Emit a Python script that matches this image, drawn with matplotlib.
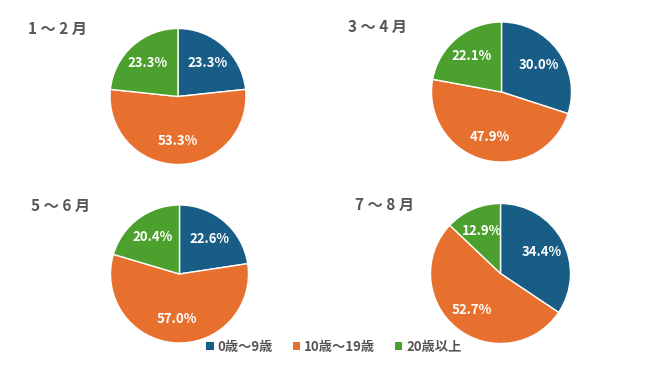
import matplotlib
matplotlib.use("Agg")
import matplotlib.pyplot as plt
from matplotlib.patches import Patch

plt.rcParams['font.family'] = ['Noto Sans CJK JP', 'DejaVu Sans']

categories = ["0歳～9歳", "10歳～19歳", "20歳以上"]
periods = ["1 ～ 2 月", "3 ～ 4 月", "5 ～ 6 月", "7 ～ 8 月"]
jan_feb = [23.3, 53.3, 23.3]
mar_apr = [30.0, 47.9, 22.1]
may_jun = [22.6, 57.0, 20.4]
jul_aug = [34.4, 52.7, 12.9]
series = [jan_feb, mar_apr, may_jun, jul_aug]

colors = ["#185d86", "#e8702f", "#4ba02e"]
W, H = 650, 365

# pie centre (px, from top-left), radius px, title position
layout = [
    ((178, 96.5), 68, (28, 29)),
    ((501.5, 92), 70, (348, 27)),
    ((179.5, 274), 69, (31, 206)),
    ((500.5, 273.5), 70, (355, 205)),
]

fig = plt.figure(figsize=(W / 100, H / 100), dpi=100)

for vals, name, ((cx, cy), r, (tx, ty)) in zip(series, periods, layout):
    ax = fig.add_axes([(cx - r) / W, (H - cy - r) / H, 2 * r / W, 2 * r / H])
    wedges, texts, autotexts = ax.pie(
        vals, colors=colors, startangle=90, counterclock=False,
        autopct='%.1f%%', pctdistance=0.66,
        wedgeprops=dict(edgecolor='white', linewidth=1),
        textprops=dict(color='white', fontsize=9.5, fontweight='bold'))
    for t, v in zip(autotexts, vals):
        t.set_text(f"{v:.1f}%")
    ax.set_xlim(-1, 1)
    ax.set_ylim(-1, 1)
    fig.text(tx / W, 1 - ty / H, name, fontsize=11, fontweight='bold',
             color='#555555', ha='left', va='center')

handles = [Patch(facecolor=c, edgecolor='none') for c in colors]
fig.legend(handles, categories, loc='center', bbox_to_anchor=(334 / W, 1 - 347 / H),
           ncol=3, frameon=False, prop=dict(size=9.5, weight='bold'),
           labelcolor='#555555', handlelength=0.55, handleheight=0.55,
           handletextpad=0.3, columnspacing=1.5)

fig.savefig("out.png", dpi=100)
